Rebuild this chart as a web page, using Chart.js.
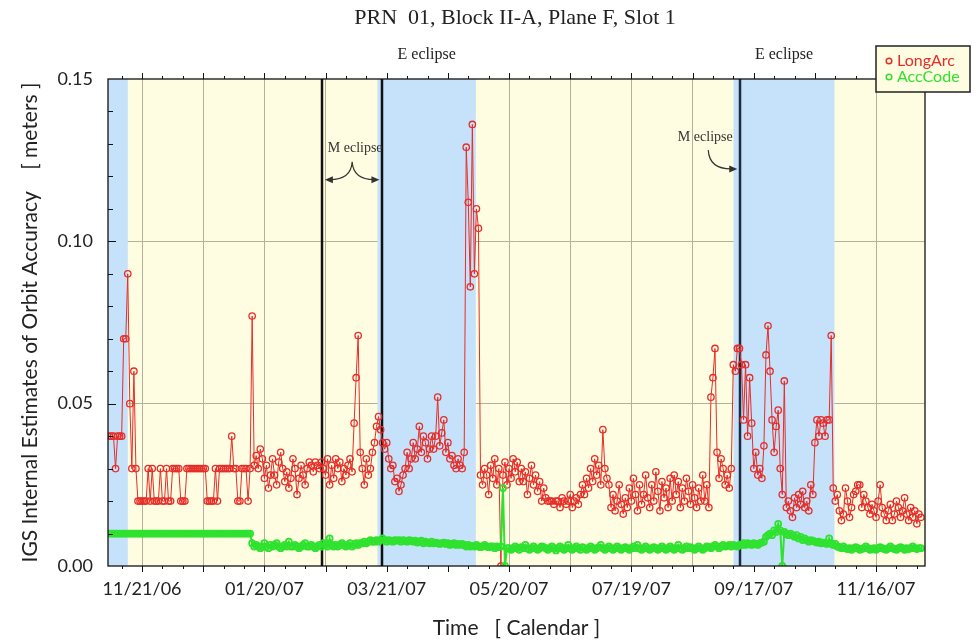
<!DOCTYPE html>
<html>
<head>
<meta charset="utf-8">
<title>PRN 01 orbit accuracy</title>
<script src="https://cdn.jsdelivr.net/npm/chart.js@4.4.1/dist/chart.umd.min.js"></script>
<style>
  html, body { margin: 0; padding: 0; background: #fff; }
  #c { display: block; }
</style>
</head>
<body>
<canvas id="c" width="976" height="641"></canvas>
<script>
// x values are days counted from 11/21/06, one point per day
var firstDay = -16;

// LongArc, meters
var longArc = [
  .04,.04,.04,.03,.04,.04,.04,.07,.07,.09,.05,.03,.06,.03,.02,
  .02,.02,.02,.02,.03,.02,.03,.02,.02,.02,.03,.02,.02,.03,.02,.02,.03,.03,.03,.03,.02,.02,.02,
  .03,.03,.03,.03,.03,.03,.03,.03,.03,.03,.02,.02,.02,.02,.03,.02,.03,.03,.03,.03,.03,.03,.04,
  .03,.03,.02,.02,.03,.03,.03,.02,.03,
  .077,.031,.034,.030,.036,.033,.027,.031,.024,.028,.033,.028,.025,.032,.035,.030,.026,.029,
  .024,.027,.033,.030,.022,.027,.031,.028,.025,.030,.032,.031,.029,.032,.031,.030,
  .032,.030,.028,.033,.025,.031,.027,.033,.030,.032,.026,.030,.028,.031,.033,.029,.044,.058,
  .071,.035,.030,.025,.033,.028,.030,.035,.038,.043,.046,.042,.038,
  .036,.038,.033,.030,.031,.026,.027,.023,.025,.028,.030,.035,.030,.033,.038,.033,.036,.043,
  .035,.040,.038,.033,.036,.040,.036,.040,.052,.037,.041,.045,.035,.038,.033,.034,.031,.030,
  .033,.031,.030,
  .035,.129,.112,.086,.136,.090,.110,.104,.028,
  .025,.030,.028,.022,.031,.027,.033,.025,.030,.000,.028,.032,.025,.030,.027,.033,.029,.032,.026,
  .030,.026,.029,.022,.027,.031,.025,.028,.023,.026,.020,.024,.021,.020,.020,.020,.019,.020,
  .020,.018,.021,.020,.019,.020,.022,.018,.020,.021,.019,.022,.025,.022,.027,.024,.030,.026,
  .033,.028,.031,.025,
  .042,.030,.027,.025,.018,.022,.017,.020,.025,.019,.016,.021,.018,.024,.020,.027,.022,.017,
  .025,.019,.022,.028,.021,.018,.025,.020,.029,.023,.017,.026,.021,.024,.018,.027,.020,
  .028,.022,.026,.018,.024,.020,.027,.023,.019,.025,.021,.018,.024,.020,.028,.020,.025,.018,
  .052,.058,.067,.035,.027,.033,.030,.025,.028,.024,.030,.062,.060,.067,.067,
  .062,.045,.062,.040,.058,.044,.030,.035,.028,.030,.027,.037,.065,.074,.060,.045,.035,.043,
  .048,.030,.022,.057,.018,.020,.017,.015,.021,.018,.022,.019,.023,.018,.020,.017,.025,.022,
  .038,.045,.040,.045,.044,.040,.045,.045,.071,.024,.020,
  .022,.017,.014,.016,.024,.020,.015,.018,.022,.023,.025,.025,.018,.022,.020,.018,.016,.019,
  .017,.015,.020,.025,.018,.016,.014,.017,.019,.014,.016,.020,.018,.015,.017,.021,.016,.014,
  .018,.015,.017,.013,.016,.015
];

// AccCode, meters
var accCode = [
  .010,.010,.010,.010,.010,.010,.010,.010,.010,.010,.010,.010,.010,.010,.010,.010,.010,.010,
  .010,.010,.010,.010,.010,.010,.010,.010,.010,.010,.010,.010,.010,.010,.010,.010,.010,.010,
  .010,.010,.010,.010,.010,.010,.010,.010,.010,.010,.010,.010,.010,.010,.010,.010,.010,.010,
  .010,.010,.010,.010,.010,.010,.010,.010,.010,.010,.010,.010,.010,.010,.010,.010,
  .007,.006,.0065,.006,.0055,.006,.007,.006,.0055,.0065,.006,.0065,.007,.006,.0055,.006,.0065,.006,.0075,.006,
  .006,.0065,.006,.0055,.006,.0065,.007,.006,.006,.0065,.006,.0055,.006,.0065,.006,.007,.0065,.006,.0085,.0065,
  .006,.0065,.006,.0065,.007,.0065,.006,.0065,.007,.006,.0065,.007,.0065,.007,.007,.0075,.007,.0075,.008,.0075,
  .0075,.008,.0075,.008,.0085,
  .008,.0075,.008,.0078,.0075,.008,.0078,.008,.0075,.008,.0078,.0075,.008,.0078,.0075,.0078,.0072,.0075,.0078,.007,
  .0075,.0072,.007,.0075,.007,.0072,.007,.0068,.007,.0072,.0068,.007,.0065,.0068,.007,.0065,.0068,.0065,.0068,
  .0065,.006,.0065,.006,.0062,.006,.0065,.006,.0058,.006,.0065,.006,.0058,.006,.006,.0055,.006,.0058,
  .006,.024,.000,.0055,
  .0055,.005,.0055,.006,.0055,.005,.0058,.0055,.0065,.0055,.005,.0055,.006,.0055,.005,.0055,.006,.0058,.0055,
  .005,.0055,.006,.0055,.0048,.0055,.006,.0055,.005,.0055,.0065,.0055,.005,.0055,.006,.0055,.005,.0058,.0055,
  .005,.0055,.006,.0055,.005,.0055,.0058,.0065,.0055,.005,.0055,.006,.0055,.005,.0055,.006,.0055,.005,.0055,
  .0058,.0055,.005,.0055,.006,.0055,.0065,.0055,.005,.0055,.006,.0055,.005,.0055,.0058,.0055,.005,.0055,.006,
  .0055,.005,.0055,.006,.0055,.005,.0055,.0065,.0055,.005,.0055,.006,.0055,.0058,.0055,.005,.0055,.006,.0055,
  .005,.0055,.006,.0058,.0055,.006,.0065,.006,.0055,.006,.0065,.006,.0062,.0065,.006,.0065,.0062,.006,.0065,
  .0065,.007,.0065,.007,.0068,.0065,.007,.0068,.0065,.007,.0072,.0075,
  .009,.0095,.010,.0095,.011,.0105,.013,.011,.000,.0105,.010,.0095,.010,.0095,.009,.0095,.0085,.009,.008,.0085,
  .008,.0075,.008,.0078,.0075,.0072,.0075,.007,.0072,.007,.0068,.0085,.007,.0065,.0068,
  .006,.0058,.0055,.006,.0055,.0052,.0055,.005,.0055,.0058,.0055,.005,.0052,.0055,.006,.0055,.005,.0052,.0055,.005,
  .0055,.0058,.0055,.0052,.005,.0055,.006,.0055,.0052,.005,.0055,.0058,.0055,.005,.0055,.0052,.0055,.006,.0055,.0052,
  .0055,.0055
];

// axis ticks
var xLabelDays = [0, 60, 120, 180, 240, 300, 360];
var xLabels = ['11/21/06', '01/20/07', '03/21/07', '05/20/07', '07/19/07', '09/17/07', '11/16/07'];
var yLabelVals = [0, 5, 10, 15];   // hundredths of a meter
var yLabels = ['0.00', '0.05', '0.10', '0.15'];

// eclipse seasons (days) and M eclipse markers
var eclipseStart = [-17, 115.5, 290.1];
var eclipseEnd = [-7, 163.7, 339.6];
var mEclipse = [88.2, 117.9, 293.4];

var RED = '#e62d28';
var GREEN = '#2fe22f';
var SERIF = "'Liberation Serif', 'Times New Roman', serif";

function toPoints(vals) {
  var pts = [];
  for (var i = 0; i < vals.length; i++) pts.push({ x: firstDay + i, y: vals[i] });
  return pts;
}

function arrowHead(ctx, x, y, ang) {
  var len = 8, half = 3.5;
  ctx.beginPath();
  ctx.moveTo(x, y);
  ctx.lineTo(x - len * Math.cos(ang) + half * Math.sin(ang), y - len * Math.sin(ang) - half * Math.cos(ang));
  ctx.lineTo(x - len * Math.cos(ang) - half * Math.sin(ang), y - len * Math.sin(ang) + half * Math.cos(ang));
  ctx.closePath();
  ctx.fill();
}

var decor = {
  id: 'decor',
  beforeDraw: function(chart) {
    var a = chart.chartArea, ctx = chart.ctx;
    ctx.save();
    ctx.fillStyle = '#fffde1';
    ctx.fillRect(a.left, a.top, a.right - a.left, a.bottom - a.top);
    ctx.restore();
  },
  beforeDatasetsDraw: function(chart) {
    var a = chart.chartArea, ctx = chart.ctx, xs = chart.scales.x;
    ctx.save();
    ctx.fillStyle = '#c6e1fa';
    for (var i = 0; i < eclipseStart.length; i++) {
      var x0 = Math.max(a.left, xs.getPixelForValue(eclipseStart[i]));
      var x1 = Math.min(a.right, xs.getPixelForValue(eclipseEnd[i]));
      ctx.fillRect(x0, a.top, x1 - x0, a.bottom - a.top);
    }
    ctx.lineWidth = 2.5;
    for (var k = 0; k < mEclipse.length; k++) {
      var px = Math.round(xs.getPixelForValue(mEclipse[k]));
      ctx.strokeStyle = k < 2 ? '#111' : '#1c2b40';
      ctx.beginPath();
      ctx.moveTo(px, a.top);
      ctx.lineTo(px, a.bottom);
      ctx.stroke();
    }
    ctx.restore();
  },
  afterDatasetsDraw: function(chart) {
    var a = chart.chartArea, ctx = chart.ctx, xs = chart.scales.x, ys = chart.scales.y;
    ctx.save();
    // frame
    ctx.strokeStyle = '#111';
    ctx.lineWidth = 1.3;
    ctx.strokeRect(a.left, a.top, a.right - a.left, a.bottom - a.top);
    // x ticks, every 10 days, outside top and bottom
    ctx.lineWidth = 1;
    ctx.beginPath();
    for (var d = -10; d <= 380; d += 10) {
      var px = Math.round(xs.getPixelForValue(d)) + 0.5;
      var len = d % 30 === 0 ? 6 : 3;
      ctx.moveTo(px, a.bottom);
      ctx.lineTo(px, a.bottom + len);
      ctx.moveTo(px, a.top);
      ctx.lineTo(px, a.top - len);
    }
    // y ticks, every 0.01, inside
    for (var n = 1; n < 15; n++) {
      var py = Math.round(ys.getPixelForValue(n / 100)) + 0.5;
      var l2 = n % 5 === 0 ? 8 : 5;
      ctx.moveTo(a.left, py);
      ctx.lineTo(a.left + l2, py);
    }
    ctx.stroke();
    ctx.restore();
  },
  afterDraw: function(chart) {
    var a = chart.chartArea, ctx = chart.ctx, xs = chart.scales.x, ys = chart.scales.y;
    ctx.save();
    ctx.fillStyle = '#222';
    ctx.textAlign = 'center';
    ctx.textBaseline = 'middle';
    ctx.font = '22px ' + SERIF;
    ctx.fillText('PRN  01, Block II-A, Plane F, Slot 1', 515, 18);

    ctx.font = '16px ' + SERIF;
    for (var i = 1; i < eclipseStart.length; i++) {
      var cx = xs.getPixelForValue((eclipseStart[i] + eclipseEnd[i]) / 2);
      ctx.fillText('E eclipse', cx, a.top - 24);
    }

    // M eclipse, first pair: brace with two arrows
    ctx.fillStyle = '#333';
    ctx.strokeStyle = '#333';
    ctx.lineWidth = 1.2;
    ctx.font = '14px ' + SERIF;
    var L = xs.getPixelForValue(mEclipse[0]), R = xs.getPixelForValue(mEclipse[1]);
    var mid = (L + R) / 2;
    var ya = ys.getPixelForValue(0.119), yp = ys.getPixelForValue(0.1245);
    ctx.fillText('M eclipse', mid + 3, ys.getPixelForValue(0.1287));
    ctx.beginPath();
    ctx.moveTo(mid, yp);
    ctx.quadraticCurveTo(mid - 1, ya, L + 8, ya);
    ctx.moveTo(mid, yp);
    ctx.quadraticCurveTo(mid + 1, ya, R - 8, ya);
    ctx.stroke();
    arrowHead(ctx, L + 3, ya, Math.PI);
    arrowHead(ctx, R - 3, ya, 0);

    // second M eclipse: curved arrow
    var P = xs.getPixelForValue(mEclipse[2]);
    ctx.fillText('M eclipse', P - 35, ys.getPixelForValue(0.1321));
    var yt = ys.getPixelForValue(0.1223);
    ctx.beginPath();
    ctx.moveTo(P - 32, ys.getPixelForValue(0.1281));
    ctx.quadraticCurveTo(P - 31, yt, P - 9, yt);
    ctx.stroke();
    arrowHead(ctx, P - 3, yt, 0);

    // legend
    var bx = 876, by = 46, bw = 94, bh = 46;
    ctx.fillStyle = '#fffde1';
    ctx.fillRect(bx, by, bw, bh);
    ctx.strokeStyle = '#222';
    ctx.lineWidth = 1.5;
    ctx.strokeRect(bx, by, bw, bh);
    var items = [['LongArc', RED], ['AccCode', GREEN]];
    ctx.textAlign = 'left';
    ctx.font = '16px Lato';
    for (var j = 0; j < items.length; j++) {
      var yy = by + 15 + j * 16;
      ctx.strokeStyle = items[j][1];
      ctx.lineWidth = 1.5;
      ctx.beginPath();
      ctx.arc(bx + 13, yy, 2.8, 0, Math.PI * 2);
      ctx.stroke();
      ctx.fillStyle = items[j][1];
      ctx.fillText(items[j][0], bx + 21, yy);
    }
    ctx.restore();
  }
};

Chart.defaults.font.family = 'Lato';
Chart.defaults.color = '#222';

new Chart(document.getElementById('c'), {
  type: 'line',
  data: {
    datasets: [
      {
        label: 'LongArc',
        data: toPoints(longArc),
        borderColor: RED,
        borderWidth: 1,
        pointRadius: 3.2,
        pointBorderWidth: 1.3,
        pointBorderColor: RED,
        pointBackgroundColor: 'rgba(0,0,0,0)',
        tension: 0,
        order: 2
      },
      {
        label: 'AccCode',
        data: toPoints(accCode),
        borderColor: GREEN,
        borderWidth: 2,
        pointRadius: 3,
        pointBorderWidth: 1.8,
        pointBorderColor: GREEN,
        pointBackgroundColor: 'rgba(0,0,0,0)',
        tension: 0,
        order: 1
      }
    ]
  },
  options: {
    responsive: false,
    animation: false,
    devicePixelRatio: 1,
    events: [],
    layout: { padding: { top: 79, right: 51, left: 0, bottom: 0 } },
    plugins: { legend: { display: false }, tooltip: { enabled: false } },
    scales: {
      x: {
        type: 'linear',
        min: -16.7,
        max: 384,
        afterFit: function(s) { s.height = 75; },
        border: { display: false },
        grid: {
          drawTicks: false,
          lineWidth: 1,
          color: function(c) {
            return (c.tick && Math.round(c.tick.value) % 30 === 0) ? '#b3b19c' : 'rgba(0,0,0,0)';
          }
        },
        ticks: {
          stepSize: 10,
          autoSkip: false,
          maxRotation: 0,
          minRotation: 0,
          padding: 12,
          font: { size: 18 },
          color: '#222',
          callback: function(v) {
            var i = xLabelDays.indexOf(Math.round(v));
            return i >= 0 ? xLabels[i] : '';
          }
        },
        title: {
          display: true,
          text: 'Time   [ Calendar ]',
          font: { size: 21 },
          color: '#222',
          padding: { top: 0, bottom: 0 }
        }
      },
      y: {
        min: 0,
        max: 0.15,
        afterFit: function(s) { s.width = 108; },
        border: { display: false },
        grid: {
          drawTicks: false,
          lineWidth: 1,
          color: function(c) {
            var n = c.tick ? Math.round(c.tick.value * 100) : 0;
            return (n === 5 || n === 10) ? '#b3b19c' : 'rgba(0,0,0,0)';
          }
        },
        ticks: {
          stepSize: 0.01,
          autoSkip: false,
          padding: 15,
          font: { size: 18 },
          color: '#222',
          callback: function(v) {
            var i = yLabelVals.indexOf(Math.round(v * 100));
            return i >= 0 ? yLabels[i] : '';
          }
        },
        title: {
          display: true,
          text: 'IGS Internal Estimates of Orbit Accuracy    [ meters ]',
          font: { size: 21 },
          color: '#222',
          padding: { top: 18, bottom: 0 }
        }
      }
    }
  },
  plugins: [decor]
});
</script>
</body>
</html>
